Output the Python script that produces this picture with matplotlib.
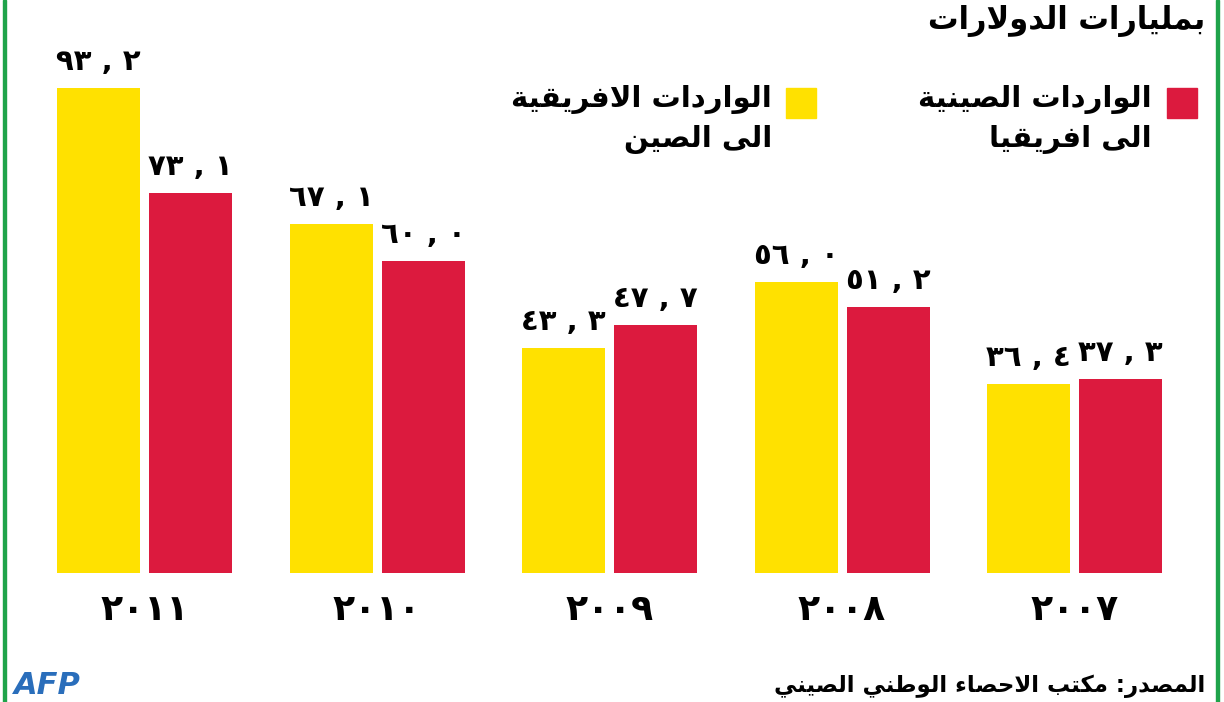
import matplotlib
matplotlib.use('Agg')
import matplotlib.pyplot as plt
from matplotlib.patches import Rectangle

# Data (billions of dollars)
years = ['2011', '2010', '2009', '2008', '2007']
africa_to_china = [93.2, 67.1, 43.3, 56.0, 36.4]   # yellow
china_to_africa = [73.1, 60.0, 47.7, 51.2, 37.3]   # red

title = 'بمليارات الدولارات'
legend_red = ['الواردات الصينية', 'الى افريقيا']
legend_yellow = ['الواردات الافريقية', 'الى الصين']
source = 'المصدر: مكتب الاحصاء الوطني الصيني'

YELLOW = '#FFE100'
RED = '#DC1A3E'
GREEN = '#1FA34A'

# minimal Arabic shaping: presentation forms + right-to-left order
# value: (isolated form code point, join type) 0 = none, 1 = right only, 2 = dual
FORMS = {
    'ء': (0xFE80, 0), 'ا': (0xFE8D, 1), 'ب': (0xFE8F, 2), 'ة': (0xFE93, 1),
    'ت': (0xFE95, 2), 'ح': (0xFEA1, 2), 'د': (0xFEA9, 1), 'ر': (0xFEAD, 1),
    'ص': (0xFEB9, 2), 'ط': (0xFEC1, 2), 'ف': (0xFED1, 2), 'ق': (0xFED5, 2),
    'ك': (0xFED9, 2), 'ل': (0xFEDD, 2), 'م': (0xFEE1, 2), 'ن': (0xFEE5, 2),
    'و': (0xFEED, 1), 'ى': (0xFEEF, 1), 'ي': (0xFEF1, 2),
}


def jt(c):
    return FORMS[c][1] if c in FORMS else -1


def shape(text):
    out = []
    i, n = 0, len(text)
    while i < n:
        c = text[i]
        if c not in FORMS:
            out.append(c)
            i += 1
            continue
        join_prev = i > 0 and jt(text[i - 1]) == 2
        if c == 'ل' and i + 1 < n and text[i + 1] == 'ا':
            out.append(chr(0xFEFC if join_prev else 0xFEFB))
            i += 2
            continue
        join_next = jt(c) == 2 and i + 1 < n and jt(text[i + 1]) > 0
        base = FORMS[c][0]
        if join_prev and join_next:
            k = 3
        elif join_prev:
            k = 1
        elif join_next:
            k = 2
        else:
            k = 0
        out.append(chr(base + k))
        i += 1
    return ''.join(reversed(out))


AR_DIGITS = str.maketrans('0123456789', '٠١٢٣٤٥٦٧٨٩')


def ar_num(v):
    a, b = f'{v:.1f}'.split('.')
    return f'{a} , {b}'.translate(AR_DIGITS)


plt.rcParams['font.family'] = ['DejaVu Sans']

W, H = 1224, 702
fig = plt.figure(figsize=(W / 100, H / 100), dpi=100)
fig.patch.set_facecolor('white')

# axes: baseline at y=573 px from top, 5.2 px per billion
base_px = 573
scale = 5.2
ax = fig.add_axes([0, (H - base_px) / H, 1, base_px / H])
ax.set_xlim(-144.5 / 232.5, (W - 144.5) / 232.5)
ax.set_ylim(0, base_px / scale)
ax.axis('off')

x = list(range(len(years)))
bw = 83 / 232.5
off = 92 / 232.5 / 2
ax.bar([i - off for i in x], africa_to_china, width=bw, color=YELLOW)
ax.bar([i + off for i in x], china_to_africa, width=bw, color=RED)

for i in x:
    for xx, v in ((i - off, africa_to_china[i]), (i + off, china_to_africa[i])):
        ax.annotate(ar_num(v), (xx, v), xytext=(0, 13), textcoords='offset points',
                    ha='center', va='baseline', fontsize=21, fontweight='bold')
    ax.annotate(years[i].translate(AR_DIGITS), (i, 0), xytext=(0, -27),
                textcoords='offset points', ha='center', va='center',
                fontsize=26, fontweight='bold', annotation_clip=False)

# title
fig.text(1205 / W, 1 - 21 / H, shape(title), ha='right', va='center',
         fontsize=22, fontweight='bold')

# legend
fig.add_artist(Rectangle((1167 / W, 1 - 118 / H), 30 / W, 30 / H, color=RED))
fig.add_artist(Rectangle((786 / W, 1 - 118 / H), 30 / W, 30 / H, color=YELLOW))
for j, line in enumerate(legend_red):
    fig.text(1152 / W, 1 - (100 + 39 * j) / H, shape(line), ha='right', va='center',
             fontsize=21, fontweight='bold')
for j, line in enumerate(legend_yellow):
    fig.text(772 / W, 1 - (100 + 39 * j) / H, shape(line), ha='right', va='center',
             fontsize=21, fontweight='bold')

# source and logo
fig.text(1205 / W, 1 - 686 / H, shape(source), ha='right', va='center',
         fontsize=16.5, fontweight='bold')
fig.text(14 / W, 1 - 694 / H, 'AFP', ha='left', va='baseline', fontsize=22,
         fontweight='bold', fontstyle='italic', color='#2A6EBB')

# green side rules
fig.add_artist(Rectangle((3 / W, 0), 3 / W, 1, color=GREEN))
fig.add_artist(Rectangle((1216 / W, 0), 3 / W, 1, color=GREEN))

fig.savefig('out.png', dpi=100, facecolor='white')
